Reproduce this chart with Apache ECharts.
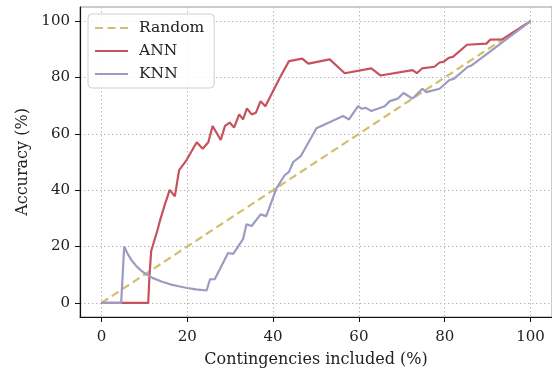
<!DOCTYPE html>
<html>
<head>
<meta charset="utf-8">
<script src="https://cdn.jsdelivr.net/npm/echarts@6/dist/echarts.min.js"></script>
<style>
  html, body { margin: 0; padding: 0; background: #fff; }
  #chart { width: 552px; height: 373px; }
</style>
</head>
<body>
<div id="chart"></div>
<script>
// values
var tickValues = [0, 20, 40, 60, 80, 100];

var randomX = [0, 100];
var randomY = [0, 100];

var annX = [0, 10.9, 11.2, 11.6, 12.1, 13, 13.6, 14.7, 15.9, 17.1, 18.1, 19.8, 22.2, 23.6, 24.9, 25.9, 27.8, 28.8, 29.9, 30.9,
  32.1, 33, 33.9, 35, 36, 37.1, 38.2, 41.6, 43.7, 46.8, 48.2, 53.2, 56.7, 62.9, 65, 72.5, 73.5, 74.7, 77.6, 78.8,
  79.7, 81, 81.9, 85.2, 89.7, 90.6, 93.4, 100];
var annY = [0, 0, 10, 18.5, 21, 25.5, 29, 34.5, 40.1, 37.8, 47.1, 50.6, 57, 54.7, 57, 62.8, 57.8, 62.8, 64, 62.2,
  66.9, 65.1, 69, 66.9, 67.5, 71.6, 69.8, 80, 85.8, 86.7, 84.9, 86.4, 81.5, 83.2, 80.7, 82.6, 81.5, 83.2, 83.8, 85.3,
  85.5, 87, 87.3, 91.6, 92, 93.4, 93.5, 100];

var knnX = [0, 4.6, 5.3, 6, 7, 8, 9, 10, 11, 12, 14, 16, 18, 20, 22, 24.5, 25.3, 26.4, 29.5, 30.7,
  33, 33.8, 35, 37.1, 38.4, 40.8, 42.7, 43.7, 44.7, 46.5, 48.9, 50.1, 52.4, 56.3, 57.7, 59.8, 60.6, 61.6, 62.9, 66,
  67.2, 69.1, 70.4, 72.5, 74.8, 75.7, 78.8, 81.1, 82.1, 85.4, 86.2, 100];
var knnY = [0, 0, 20, 17.7, 15.2, 13.3, 11.8, 10.6, 9.7, 8.8, 7.6, 6.6, 5.9, 5.3, 4.8, 4.4, 8.4, 8.4, 17.7, 17.4,
  22.6, 27.9, 27.3, 31.4, 30.8, 40.7, 45.3, 46.5, 50, 52.2, 58.7, 62, 63.6, 66.3, 65.1, 69.8, 68.9, 69.2, 68.1, 69.8,
  71.6, 72.5, 74.5, 72.5, 76, 74.8, 76, 79.1, 79.5, 83.8, 84.2, 100];

function pairs(xs, ys) {
  var out = [];
  for (var i = 0; i < xs.length; i++) out.push([xs[i], ys[i]]);
  return out;
}

var font = 'DejaVu Serif';
var chart = echarts.init(document.getElementById('chart'));

function axisBase(name) {
  return {
    type: 'value',
    min: -5,
    max: 105,
    name: name,
    nameLocation: 'middle',
    nameTextStyle: { fontFamily: font, fontSize: 16, color: '#222' },
    axisLine: { show: true, onZero: false, lineStyle: { color: '#111', width: 1.2 } },
    axisTick: { show: true, inside: false, length: 5, customValues: tickValues, lineStyle: { color: '#111' } },
    axisLabel: { customValues: tickValues, fontFamily: font, fontSize: 15, color: '#222', margin: 10 },
    splitLine: { show: true, lineStyle: { color: '#b8b8b8', type: [1.5, 2.5], width: 1 } }
  };
}

var xAxis = axisBase('Contingencies included (%)');
xAxis.nameGap = 35;
xAxis.axisLabel.margin = 13;
var yAxis = axisBase('Accuracy (%)');
yAxis.nameGap = 46;

var option = {
  animation: false,
  backgroundColor: '#fff',
  grid: {
    left: 80, top: 7, right: -1, bottom: 51,
    show: true, borderColor: '#999', borderWidth: 1
  },
  legend: {
    orient: 'vertical',
    left: 88,
    top: 14,
    padding: [6, 10, 6, 6],
    itemWidth: 33,
    itemHeight: 15,
    itemGap: 7,
    borderColor: '#d0d0d0',
    borderWidth: 1,
    borderRadius: 4,
    backgroundColor: 'rgba(255,255,255,0.85)',
    itemStyle: { opacity: 0 },
    textStyle: { fontFamily: font, fontSize: 15.5, color: '#222', padding: [0, 0, 0, 6] },
    data: ['Random', 'ANN', 'KNN']
  },
  xAxis: xAxis,
  yAxis: yAxis,
  series: [
    {
      name: 'Random', type: 'line', symbol: 'none',
      data: pairs(randomX, randomY),
      lineStyle: { color: '#d2bf6e', width: 2.2, type: [8, 4.5] },
      itemStyle: { color: '#d2bf6e' }
    },
    {
      name: 'ANN', type: 'line', symbol: 'none',
      data: pairs(annX, annY),
      lineStyle: { color: '#c6525c', width: 2.2 },
      itemStyle: { color: '#c6525c' }
    },
    {
      name: 'KNN', type: 'line', symbol: 'none',
      data: pairs(knnX, knnY),
      lineStyle: { color: '#9e9ac2', width: 2.2 },
      itemStyle: { color: '#9e9ac2' }
    }
  ]
};
chart.setOption(option);
</script>
</body>
</html>
